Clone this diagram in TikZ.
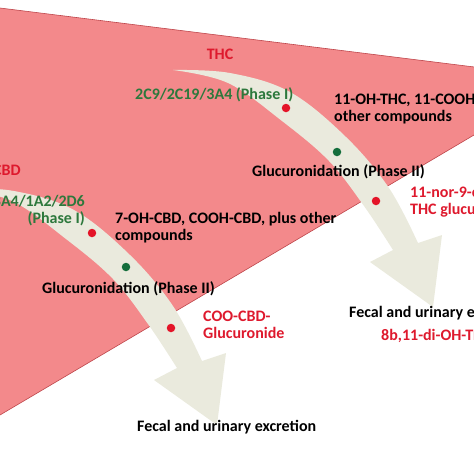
\documentclass[tikz,border=0pt]{standalone}
\usepackage{fontspec}
\setmainfont{Carlito}
\usetikzlibrary{positioning}
\definecolor{wedgepink}{RGB}{243,137,139}
\definecolor{wedgeedge}{RGB}{190,70,75}
\definecolor{pathbeige}{RGB}{234,234,221}
\definecolor{metred}{RGB}{222,25,45}
\definecolor{enzgreen}{RGB}{45,120,60}
\definecolor{dotred}{RGB}{228,20,40}
\definecolor{dotgreen}{RGB}{20,110,60}
\tikzstyle{species} = [text=metred, inner sep=0pt]
\tikzstyle{enzyme} = [text=enzgreen, inner sep=0pt, align=right]
\tikzstyle{product} = [text=black, inner sep=0pt, align=left]
\tikzstyle{conjugate} = [text=metred, inner sep=0pt, align=left]
\tikzstyle{reddot} = [circle, fill=dotred, inner sep=0pt, minimum size=8.5pt]
\tikzstyle{greendot} = [circle, fill=dotgreen, inner sep=0pt, minimum size=8.5pt]
% curved metabolic route (THC position, shifted for CBD)
\newcommand{\metroute}{%
  \fill[pathbeige] plot[smooth, tension=0.6] coordinates
      {(173,70) (230,73) (290,92) (346,137) (389,188) (418,243)}
    -- (442,235) -- (433,307) -- (370,262)
    -- plot[smooth, tension=0.6] coordinates
      {(393,250) (364,206) (329,161) (282,121) (228,83) (173,70)}
    -- cycle;}

\begin{document}
\begin{tikzpicture}[
    x=1pt, y=-1pt,
    font=\fontsize{16}{17}\selectfont\bfseries
]
\clip (0,0) rectangle (474,474);

% liver wedge
\filldraw[fill=wedgepink, draw=wedgeedge, line width=0.6pt]
    (-10,6.75) -- (484,68.2) -- (484,129.1) -- (-10,420.9) -- cycle;

% routes
\metroute
\begin{scope}[shift={(-216,118)}]
  \metroute
\end{scope}

% THC
\node (thc)     [species] at (220,54) {THC};
\node (thcenz)  [enzyme, anchor=west] at (135,95) {2C9/2C19/3A4 (Phase I)};
\node (thcprod) [product, anchor=west] at (334,108.5) {11-OH-THC, 11-COOH-THC, plus\\other compounds};
\node (thcgluc) [product, anchor=west] at (252,172) {Glucuronidation (Phase II)};
\node (thcconj) [conjugate, anchor=west] at (410,201.5) {11-nor-9-carboxy-\\THC glucuronide};
\node (thcexc)  [product, anchor=west] at (349,313) {Fecal and urinary excretion};
\node (thcfin)  [species, anchor=west] at (381,336) {8b,11-di-OH-THC};

\node (tdot1) [reddot]   at (286,108) {};
\node (tdot2) [greendot] at (337,152) {};
\node (tdot3) [reddot]   at (376,201) {};

% CBD
\node (cbd)     [species] at (7,170) {CBD};
\node (cbdenz)  [enzyme, anchor=east] at (85,211) {3A4/1A2/2D6\\(Phase I)};
\node (cbdprod) [product, anchor=west] at (115,228) {7-OH-CBD, COOH-CBD, plus other\\compounds};
\node (cbdgluc) [product, anchor=west] at (42,289) {Glucuronidation (Phase II)};
\node (cbdconj) [conjugate, anchor=west] at (203,324.5) {COO-CBD-\\Glucuronide};
\node (cbdexc)  [product, anchor=west] at (137,427) {Fecal and urinary excretion};

\node (cdot1) [reddot]   at (92,233) {};
\node (cdot2) [greendot] at (126,267) {};
\node (cdot3) [reddot]   at (171,328) {};

\end{tikzpicture}
\end{document}
